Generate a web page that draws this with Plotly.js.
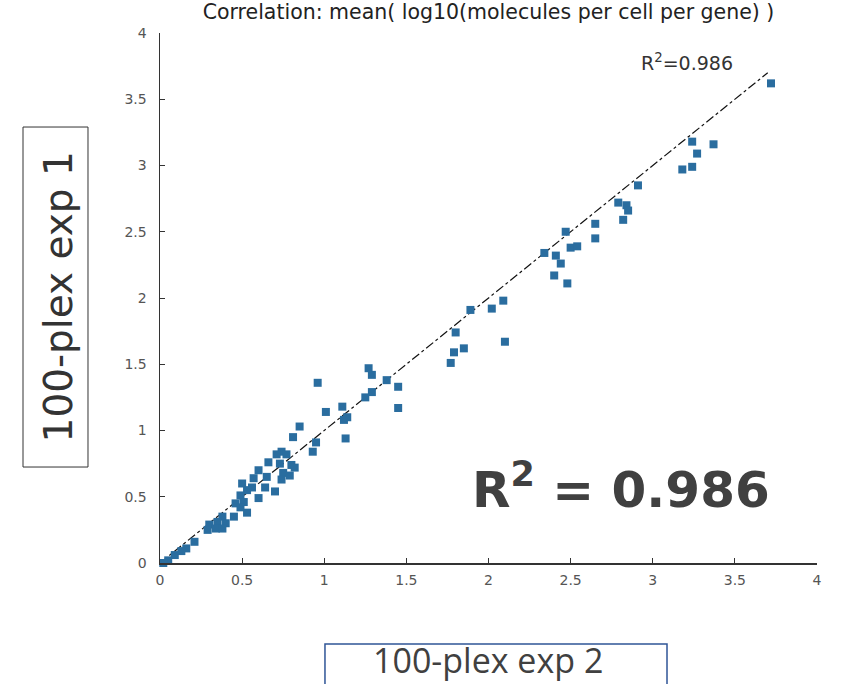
<!DOCTYPE html>
<html>
<head>
<meta charset="utf-8">
<script src="https://cdn.plot.ly/plotly-3.0.1.min.js"></script>
<style>html,body{margin:0;padding:0;background:#fff;}#chart{width:841px;height:684px;}</style>
</head>
<body>
<div id="chart"></div>
<script>
// exp 2 (x) vs exp 1 (y): mean log10 molecules per cell per gene
const exp2 = [3.72,3.24,3.37,3.27,3.24,3.18,2.91,2.79,2.84,2.85,2.82,2.65,2.65,2.47,2.50,2.54,2.34,2.41,2.44,2.40,2.48,2.09,2.02,1.89,1.80,2.10,1.85,1.79,1.77,
  1.27,1.29,1.38,1.45,1.29,1.25,0.96,1.45,1.11,1.01,1.14,1.12,1.13,0.85,0.95,0.93,0.81,
  0.74,0.77,0.71,0.66,0.73,0.80,0.82,0.60,0.75,0.79,0.65,0.57,0.74,0.50,0.56,0.64,0.70,0.53,0.49,0.60,0.51,0.46,0.49,0.53,0.45,0.38,0.35,0.40,0.30,0.34,0.29,0.38,0.21,0.16,0.09,0.05,0.02,0.13];
const exp1 = [3.62,3.18,3.16,3.09,2.99,2.97,2.85,2.72,2.70,2.66,2.59,2.56,2.45,2.50,2.38,2.39,2.34,2.32,2.26,2.17,2.11,1.98,1.92,1.91,1.74,1.67,1.62,1.59,1.51,
  1.47,1.42,1.38,1.33,1.29,1.25,1.36,1.17,1.18,1.14,1.10,1.08,0.94,1.03,0.91,0.84,0.95,
  0.84,0.82,0.82,0.76,0.75,0.74,0.72,0.70,0.68,0.66,0.65,0.64,0.63,0.60,0.57,0.57,0.54,0.55,0.51,0.49,0.46,0.45,0.42,0.38,0.35,0.35,0.31,0.30,0.29,0.26,0.25,0.26,0.16,0.11,0.06,0.02,0.00,0.09];
const fitX = [0, 3.70];
const fitY = [0, 3.70];
const tickVals = [0,0.5,1,1.5,2,2.5,3,3.5,4];
const tickText = ['0','0.5','1','1.5','2','2.5','3','3.5','4'];
const titleText = 'Correlation: mean( log10(molecules per cell per gene) )';
const r2Small = 'R<sup>2</sup>=0.986';
const r2Big = 'R<sup>2</sup> = 0.986';
const yLabel = '100-plex exp 1';
const xLabel = '100-plex exp 2';

const axisCommon = {
  range: [0, 4], tickvals: tickVals, ticktext: tickText,
  showgrid: false, zeroline: false, showline: true, linecolor: '#333', linewidth: 1.5,
  ticks: 'inside', ticklen: 5, tickcolor: '#333', tickwidth: 1,
  tickfont: {family: 'DejaVu Sans', size: 14, color: '#555'}, fixedrange: true
};

const data = [
  {x: fitX, y: fitY, mode: 'lines', type: 'scatter',
   line: {color: '#111', width: 1.2, dash: 'dashdot'}, hoverinfo: 'skip', cliponaxis: false},
  {x: exp2, y: exp1, mode: 'markers', type: 'scatter',
   marker: {color: '#2a6d9f', size: 8, symbol: 'square', line: {width: 0}}, cliponaxis: false}
];

const layout = {
  width: 841, height: 684,
  margin: {l: 160, r: 24, t: 33, b: 121},
  paper_bgcolor: '#fff', plot_bgcolor: '#fff',
  showlegend: false,
  title: {text: titleText, x: 0.5, xref: 'paper', xanchor: 'center', y: 0.982, yref: 'container', yanchor: 'middle',
          font: {family: 'DejaVu Sans', size: 20.5, color: '#222'}},
  xaxis: Object.assign({}, axisCommon, {ticklabelstandoff: 4}),
  yaxis: Object.assign({}, axisCommon, {ticklabelstandoff: 9}),
  shapes: [
    {type: 'rect', xref: 'paper', yref: 'paper', x0: -0.2085, x1: -0.1096, y0: 0.1811, y1: 0.8226,
     line: {color: '#333', width: 1}},
    {type: 'rect', xref: 'paper', yref: 'paper', x0: 0.2511, x1: 0.7717, y0: -0.26, y1: -0.1528,
     line: {color: '#2f5597', width: 1.5}}
  ],
  annotations: [
    {text: r2Small, xref: 'x', yref: 'y', x: 3.21, y: 3.78, xanchor: 'center', yanchor: 'middle', showarrow: false,
     font: {family: 'DejaVu Sans', size: 19, color: '#333'}},
    {text: r2Big, xref: 'paper', yref: 'paper', x: 0.7017, y: 0.1434, xanchor: 'center', yanchor: 'middle', showarrow: false,
     font: {family: 'DejaVu Sans', size: 50, color: '#404040', weight: 'bold'}},
    {text: yLabel, xref: 'paper', yref: 'paper', x: -0.1545, y: 0.502, xanchor: 'center', yanchor: 'middle',
     textangle: -90, showarrow: false,
     font: {family: 'DejaVu Sans', size: 39, color: '#333'}},
    {text: xLabel, xref: 'paper', yref: 'paper', x: 0.4992, y: -0.183, xanchor: 'center', yanchor: 'middle', showarrow: false,
     font: {family: 'Open Sans', size: 34, color: '#404040'}}
  ]
};

Plotly.newPlot('chart', data, layout, {displayModeBar: false, staticPlot: true});
</script>
</body>
</html>
